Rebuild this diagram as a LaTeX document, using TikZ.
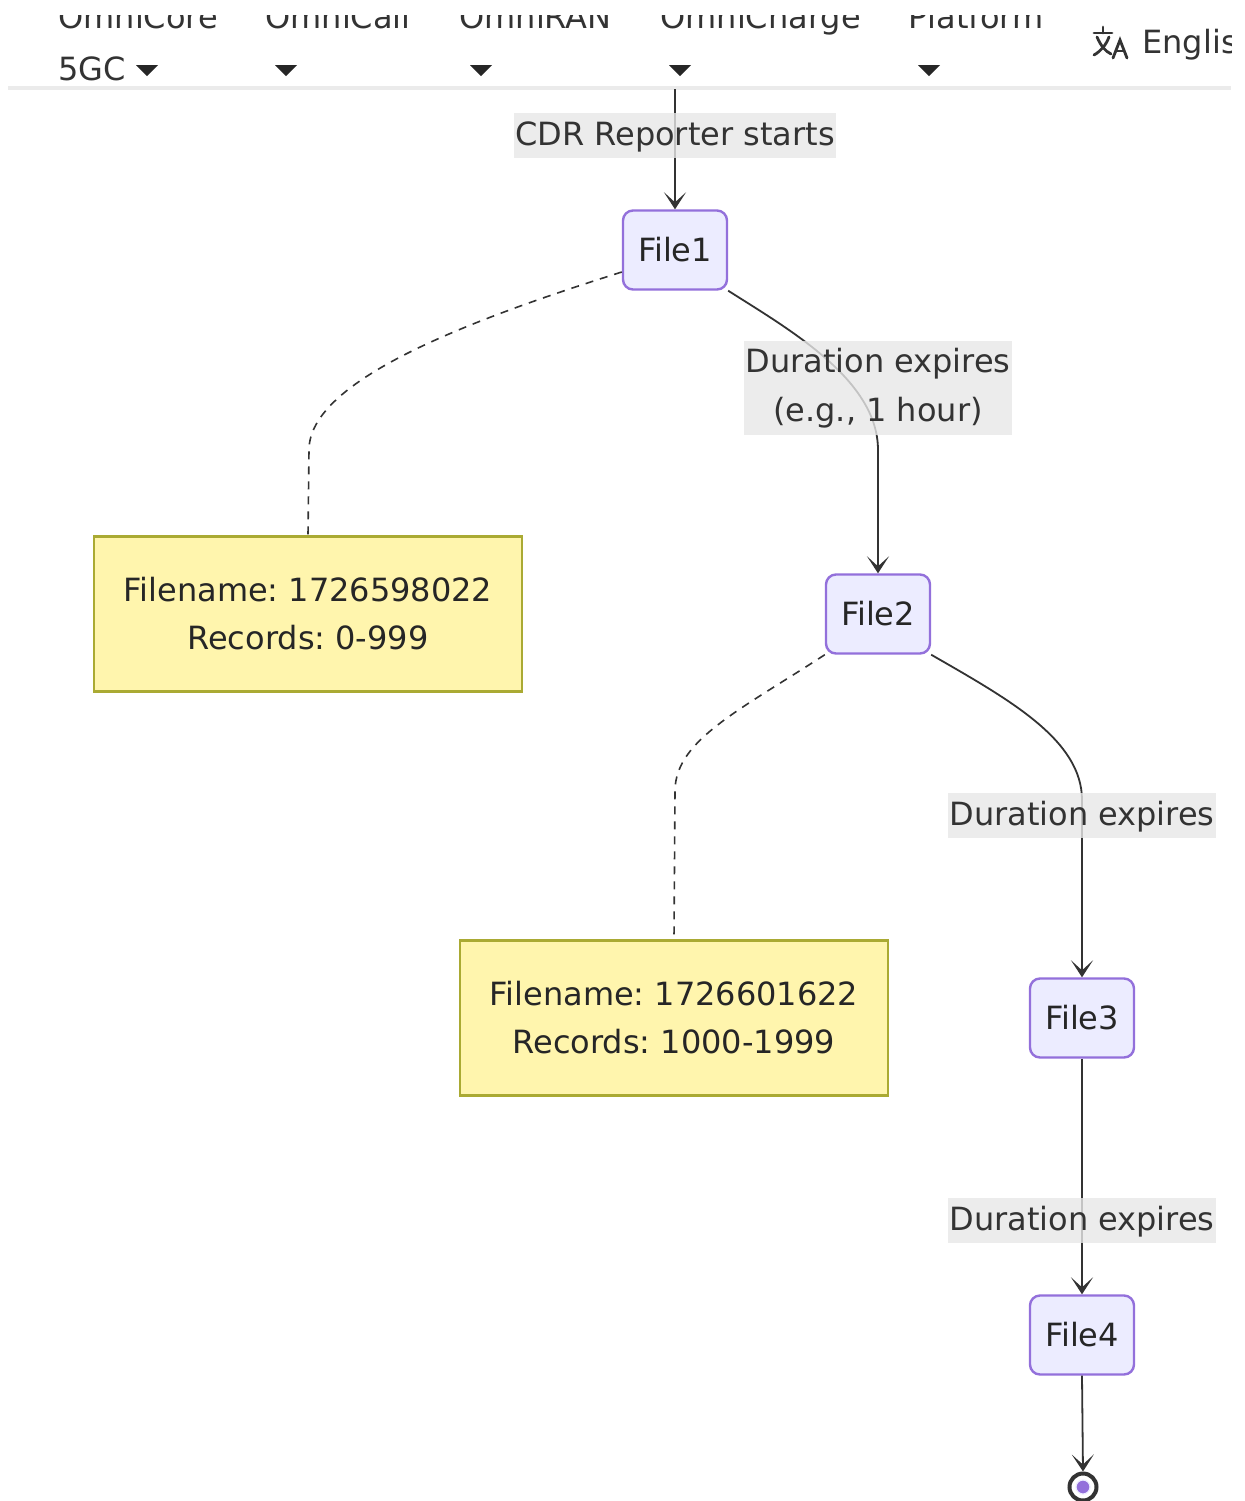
\documentclass[tikz,border=0pt]{standalone}
\usepackage{fontspec}
\setmainfont{DejaVu Sans}
\usetikzlibrary{arrows.meta}
\definecolor{nodefill}{HTML}{ECECFF}
\definecolor{nodeline}{HTML}{9370DB}
\definecolor{notefill}{HTML}{FFF5AD}
\definecolor{noteline}{HTML}{AAAA33}
\definecolor{edgecol}{HTML}{333333}
\definecolor{lblbg}{HTML}{E8E8E8}
\definecolor{hdrtext}{HTML}{333333}
\tikzset{
  filebox/.style={draw=nodeline, fill=nodefill, line width=1.2pt, rounded corners=5pt,
    minimum width=52pt, minimum height=39.5pt, inner sep=0pt, font=\fontsize{16}{24}\selectfont, text=black!85},
  notebox/.style={draw=noteline, fill=notefill, line width=1.3pt,
    minimum width=214pt, minimum height=77.5pt, inner sep=0pt, align=center,
    font=\fontsize{16}{24}\selectfont, text=black!85},
  elabel/.style={fill=lblbg, fill opacity=0.8, text opacity=1, text=edgecol, inner xsep=0.5pt,
    inner ysep=3pt, text height=13pt, text depth=3.5pt, font=\fontsize{16}{24}\selectfont},
  elabeltwo/.style={fill=lblbg, fill opacity=0.8, text opacity=1, text=edgecol, inner xsep=0.5pt,
    inner ysep=0pt, minimum height=47pt, align=center, font=\fontsize{16}{24.5}\selectfont},
  flow/.style={draw=edgecol, line width=0.9pt, -{Stealth[length=8.5pt,width=11pt,inset=5pt]}},
  notelink/.style={draw=edgecol, line width=0.8pt, dash pattern=on 4pt off 3.5pt},
  hdr/.style={anchor=base west, inner sep=0pt, text=hdrtext, font=\fontsize{16}{20}\selectfont},
  hdrtri/.style={fill=black!85, draw=none},
}
\begin{document}
\frenchspacing
\begin{tikzpicture}[x=0.5pt, y=-0.5pt]
\useasboundingbox (0,0) rectangle (1244,1501);
\fill[white] (0,0) rectangle (1244,1501);

% ---------- header (top row cut off as in the page capture) ----------
\begin{scope}
\clip (0,15.5) rectangle (1244,100);
\node[hdr] (h1) at (58,28) {OmniCore};
\node[hdr] (h2) at (265,28) {OmniCall};
\node[hdr] (h3) at (459,28) {OmniRAN};
\node[hdr] (h4) at (660,28) {OmniCharge};
\node[hdr] (h5) at (908,28) {Platform};
\end{scope}
\node[hdr] (h1b) at (58,80) {5GC};
\foreach \cx in {147,286,481,680,929}{
  \fill[hdrtri] (\cx-11,65) -- (\cx+11,65) -- (\cx,76) -- cycle;
}
% translate icon
\begin{scope}[line width=1.4pt, draw=black!80, line cap=round]
\draw (1094,33) -- (1112,33);
\draw (1103,27) -- (1103,33);
\draw (1097,37) .. controls (1101,46) and (1105,51) .. (1111,54);
\draw (1109,37) .. controls (1106,45) and (1101,51) .. (1094,55);
\draw (1113,58) -- (1120,40) -- (1127,58);
\draw (1116,51) -- (1124,51);
\end{scope}
\begin{scope}
\clip (1130,0) rectangle (1231,100);
\node[hdr] (lang) at (1142,53) {English};
\end{scope}
\draw[black!8, line width=1.6pt] (8,88) -- (1231,88);

% ---------- nodes ----------
\node[filebox] (f1) at (675,250) {File1};
\node[filebox] (f2) at (878,614) {File2};
\node[filebox] (f3) at (1082,1018) {File3};
\node[filebox] (f4) at (1082,1335) {File4};
\node[notebox] (n1) at (308,614) {Filename: 1726598022\\Records: 0-999};
\node[notebox] (n2) at (674,1018) {Filename: 1726601622\\Records: 1000-1999};
\coordinate (start) at (675,89);
\node[circle, draw=edgecol, fill=white, line width=2pt, minimum size=13.5pt, inner sep=0pt] (endst) at (1083,1487) {};
\node[circle, fill=nodeline, draw=nodefill, line width=0.6pt, minimum size=7pt, inner sep=0pt] (endin) at (1083,1487) {};

% ---------- connectors ----------
\draw[flow] (start) -- (f1.north);
\draw[flow] (f1.south east) .. controls (790,330) and (878,380) .. (878,450) -- (f2.north);
\draw[flow] (f2.south east) .. controls (1010,700) and (1082,740) .. (1082,800) -- (f3.north);
\draw[flow] (f3.south) -- (f4.north);
\draw[flow] (f4.south) -- (endst.north);
\draw[notelink] (f1.west |- 0,272) .. controls (470,320) and (309,380) .. (309,450) -- (n1.north);
\draw[notelink] (f2.south west) .. controls (740,710) and (676,740) .. (675,790) -- (n2.north);

% ---------- edge labels ----------
\node[elabel] (l0) at (675,135.5) {CDR Reporter starts};
\node[elabeltwo] (l1) at (878,388) {Duration expires\\(e.g., 1 hour)};
\node[elabel] (l2) at (1082,815.5) {Duration expires};
\node[elabel] (l3) at (1082,1220.5) {Duration expires};
\end{tikzpicture}
\end{document}
